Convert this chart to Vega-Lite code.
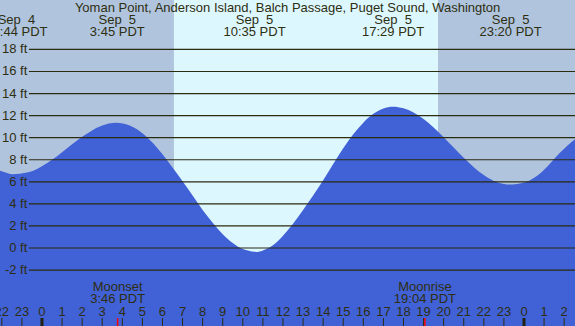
{
  "$schema": "https://vega.github.io/schema/vega-lite/v6.json",
  "width": 575,
  "height": 326,
  "autosize": "none",
  "padding": 0,
  "background": "#B0C4DE",
  "view": {"stroke": null},
  "config": {"text": {"font": "Liberation Sans", "fontSize": 13, "color": "#2E2E10"}},
  "datasets": {
    "sky": [
      {"start": -2.09, "end": 6.57, "phase": "night"},
      {"start": 6.57, "end": 19.72, "phase": "day"},
      {"start": 19.72, "end": 26.54, "phase": "night"}
    ],
    "tide": [
      {"h": -2.09, "ft": 7.0},
      {"h": -1.7, "ft": 6.78},
      {"h": -1.27, "ft": 6.7},
      {"h": -0.5, "ft": 6.96},
      {"h": 0.0, "ft": 7.4},
      {"h": 0.5, "ft": 7.99},
      {"h": 1.0, "ft": 8.68},
      {"h": 1.5, "ft": 9.4},
      {"h": 2.0, "ft": 10.09},
      {"h": 2.5, "ft": 10.66},
      {"h": 3.0, "ft": 11.1},
      {"h": 3.75, "ft": 11.35},
      {"h": 4.5, "ft": 11.0},
      {"h": 5.0, "ft": 10.41},
      {"h": 5.5, "ft": 9.56},
      {"h": 6.0, "ft": 8.49},
      {"h": 6.5, "ft": 7.3},
      {"h": 7.0, "ft": 6.05},
      {"h": 7.5, "ft": 4.75},
      {"h": 8.0, "ft": 3.45},
      {"h": 8.5, "ft": 2.3},
      {"h": 9.0, "ft": 1.25},
      {"h": 9.5, "ft": 0.45},
      {"h": 10.0, "ft": -0.1},
      {"h": 10.58, "ft": -0.35},
      {"h": 11.0, "ft": -0.22},
      {"h": 11.5, "ft": 0.25},
      {"h": 12.0, "ft": 1.1},
      {"h": 12.5, "ft": 2.2},
      {"h": 13.0, "ft": 3.45},
      {"h": 13.5, "ft": 4.75},
      {"h": 14.0, "ft": 6.14},
      {"h": 14.5, "ft": 7.62},
      {"h": 15.0, "ft": 9.04},
      {"h": 15.5, "ft": 10.3},
      {"h": 16.0, "ft": 11.36},
      {"h": 16.5, "ft": 12.16},
      {"h": 17.0, "ft": 12.64},
      {"h": 17.48, "ft": 12.8},
      {"h": 18.0, "ft": 12.66},
      {"h": 18.5, "ft": 12.29},
      {"h": 19.0, "ft": 11.69},
      {"h": 19.5, "ft": 10.92},
      {"h": 20.0, "ft": 10.04},
      {"h": 20.5, "ft": 9.1},
      {"h": 21.0, "ft": 8.17},
      {"h": 21.5, "ft": 7.32},
      {"h": 22.0, "ft": 6.61},
      {"h": 22.5, "ft": 6.08},
      {"h": 23.0, "ft": 5.8},
      {"h": 23.33, "ft": 5.75},
      {"h": 23.8, "ft": 5.84},
      {"h": 24.3, "ft": 6.15},
      {"h": 24.8, "ft": 6.75},
      {"h": 25.3, "ft": 7.65},
      {"h": 25.8, "ft": 8.65},
      {"h": 26.3, "ft": 9.5},
      {"h": 26.54, "ft": 9.85}
    ],
    "levels": [
      {"v": -2, "label": "-2 ft"}, {"v": 0, "label": "0 ft"}, {"v": 2, "label": "2 ft"},
      {"v": 4, "label": "4 ft"}, {"v": 6, "label": "6 ft"}, {"v": 8, "label": "8 ft"},
      {"v": 10, "label": "10 ft"}, {"v": 12, "label": "12 ft"}, {"v": 14, "label": "14 ft"},
      {"v": 16, "label": "16 ft"}, {"v": 18, "label": "18 ft"}
    ],
    "extremes": [
      {"h": -1.27, "date": "Sep \u00a04", "time": "22:44 PDT"},
      {"h": 3.75, "date": "Sep \u00a05", "time": "3:45 PDT"},
      {"h": 10.583, "date": "Sep \u00a05", "time": "10:35 PDT"},
      {"h": 17.483, "date": "Sep \u00a05", "time": "17:29 PDT"},
      {"h": 23.333, "date": "Sep \u00a05", "time": "23:20 PDT"}
    ],
    "moon": [
      {"h": 3.767, "event": "Moonset", "time": "3:46 PDT"},
      {"h": 19.067, "event": "Moonrise", "time": "19:04 PDT"}
    ],
    "hours": [
      {"h": -2, "label": "22"}, {"h": -1, "label": "23"}, {"h": 0, "label": "0"},
      {"h": 1, "label": "1"}, {"h": 2, "label": "2"}, {"h": 3, "label": "3"},
      {"h": 4, "label": "4"}, {"h": 5, "label": "5"}, {"h": 6, "label": "6"},
      {"h": 7, "label": "7"}, {"h": 8, "label": "8"}, {"h": 9, "label": "9"},
      {"h": 10, "label": "10"}, {"h": 11, "label": "11"}, {"h": 12, "label": "12"},
      {"h": 13, "label": "13"}, {"h": 14, "label": "14"}, {"h": 15, "label": "15"},
      {"h": 16, "label": "16"}, {"h": 17, "label": "17"}, {"h": 18, "label": "18"},
      {"h": 19, "label": "19"}, {"h": 20, "label": "20"}, {"h": 21, "label": "21"},
      {"h": 22, "label": "22"}, {"h": 23, "label": "23"}, {"h": 24, "label": "0"},
      {"h": 25, "label": "1"}, {"h": 26, "label": "2"}
    ],
    "midnights": [{"h": 0}, {"h": 24}]
  },
  "layer": [
    {
      "data": {"name": "sky"},
      "mark": {"type": "rect"},
      "encoding": {
        "x": {"field": "start", "type": "quantitative", "scale": {"domain": [-2.09, 26.54], "nice": false, "zero": false}, "axis": null},
        "x2": {"field": "end"},
        "color": {"field": "phase", "type": "nominal", "scale": {"domain": ["night", "day"], "range": ["#B0C4DE", "#DDF7FF"]}, "legend": null}
      }
    },
    {
      "data": {"name": "tide"},
      "mark": {"type": "area", "interpolate": "natural", "color": "#4161D6", "opacity": 1},
      "encoding": {
        "x": {"field": "h", "type": "quantitative", "scale": {"domain": [-2.09, 26.54], "nice": false, "zero": false}, "axis": null},
        "y": {"field": "ft", "type": "quantitative", "scale": {"domain": [-7.07, 22.48], "nice": false, "zero": false}, "axis": null},
        "y2": {"datum": -7.07}
      }
    },
    {
      "data": {"name": "levels"},
      "mark": {"type": "rule", "color": "#2B2B10", "strokeWidth": 1.2},
      "encoding": {
        "x": {"datum": -0.65, "type": "quantitative", "scale": {"domain": [-2.09, 26.54], "nice": false, "zero": false}, "axis": null},
        "x2": {"datum": 26.54},
        "y": {"field": "v", "type": "quantitative", "scale": {"domain": [-7.07, 22.48], "nice": false, "zero": false}, "axis": null}
      }
    },
    {
      "data": {"name": "levels"},
      "mark": {"type": "text", "align": "right", "baseline": "middle"},
      "encoding": {
        "x": {"datum": -0.73, "type": "quantitative", "scale": {"domain": [-2.09, 26.54], "nice": false, "zero": false}, "axis": null},
        "y": {"field": "v", "type": "quantitative", "scale": {"domain": [-7.07, 22.48], "nice": false, "zero": false}, "axis": null},
        "text": {"field": "label"}
      }
    },
    {
      "data": {"values": [{"title": "Yoman Point, Anderson Island, Balch Passage, Puget Sound, Washington"}]},
      "mark": {"type": "text", "align": "center", "baseline": "middle"},
      "encoding": {
        "x": {"datum": 12.23, "type": "quantitative", "scale": {"domain": [-2.09, 26.54], "nice": false, "zero": false}, "axis": null},
        "y": {"datum": 21.78, "type": "quantitative", "scale": {"domain": [-7.07, 22.48], "nice": false, "zero": false}, "axis": null},
        "text": {"field": "title"}
      }
    },
    {
      "data": {"name": "extremes"},
      "mark": {"type": "text", "align": "center", "baseline": "middle"},
      "encoding": {
        "x": {"field": "h", "type": "quantitative", "scale": {"domain": [-2.09, 26.54], "nice": false, "zero": false}, "axis": null},
        "y": {"datum": 20.68, "type": "quantitative", "scale": {"domain": [-7.07, 22.48], "nice": false, "zero": false}, "axis": null},
        "text": {"field": "date"}
      }
    },
    {
      "data": {"name": "extremes"},
      "mark": {"type": "text", "align": "center", "baseline": "middle"},
      "encoding": {
        "x": {"field": "h", "type": "quantitative", "scale": {"domain": [-2.09, 26.54], "nice": false, "zero": false}, "axis": null},
        "y": {"datum": 19.6, "type": "quantitative", "scale": {"domain": [-7.07, 22.48], "nice": false, "zero": false}, "axis": null},
        "text": {"field": "time"}
      }
    },
    {
      "data": {"name": "moon"},
      "mark": {"type": "text", "align": "center", "baseline": "middle"},
      "encoding": {
        "x": {"field": "h", "type": "quantitative", "scale": {"domain": [-2.09, 26.54], "nice": false, "zero": false}, "axis": null},
        "y": {"datum": -3.57, "type": "quantitative", "scale": {"domain": [-7.07, 22.48], "nice": false, "zero": false}, "axis": null},
        "text": {"field": "event"}
      }
    },
    {
      "data": {"name": "moon"},
      "mark": {"type": "text", "align": "center", "baseline": "middle"},
      "encoding": {
        "x": {"field": "h", "type": "quantitative", "scale": {"domain": [-2.09, 26.54], "nice": false, "zero": false}, "axis": null},
        "y": {"datum": -4.62, "type": "quantitative", "scale": {"domain": [-7.07, 22.48], "nice": false, "zero": false}, "axis": null},
        "text": {"field": "time"}
      }
    },
    {
      "data": {"name": "hours"},
      "mark": {"type": "text", "align": "center", "baseline": "middle"},
      "encoding": {
        "x": {"field": "h", "type": "quantitative", "scale": {"domain": [-2.09, 26.54], "nice": false, "zero": false}, "axis": null},
        "y": {"datum": -5.8, "type": "quantitative", "scale": {"domain": [-7.07, 22.48], "nice": false, "zero": false}, "axis": null},
        "text": {"field": "label"}
      }
    },
    {
      "data": {"name": "hours"},
      "mark": {"type": "rule", "color": "#2B2B10", "strokeWidth": 1},
      "encoding": {
        "x": {"field": "h", "type": "quantitative", "scale": {"domain": [-2.09, 26.54], "nice": false, "zero": false}, "axis": null},
        "y": {"datum": -7.07, "type": "quantitative", "scale": {"domain": [-7.07, 22.48], "nice": false, "zero": false}, "axis": null},
        "y2": {"datum": -6.35}
      }
    },
    {
      "data": {"name": "midnights"},
      "mark": {"type": "rule", "color": "#222210", "strokeWidth": 3},
      "encoding": {
        "x": {"field": "h", "type": "quantitative", "scale": {"domain": [-2.09, 26.54], "nice": false, "zero": false}, "axis": null},
        "y": {"datum": -7.07, "type": "quantitative", "scale": {"domain": [-7.07, 22.48], "nice": false, "zero": false}, "axis": null},
        "y2": {"datum": -6.35}
      }
    },
    {
      "data": {"name": "moon"},
      "mark": {"type": "rule", "color": "#FF0000", "strokeWidth": 1.5},
      "encoding": {
        "x": {"field": "h", "type": "quantitative", "scale": {"domain": [-2.09, 26.54], "nice": false, "zero": false}, "axis": null},
        "y": {"datum": -7.07, "type": "quantitative", "scale": {"domain": [-7.07, 22.48], "nice": false, "zero": false}, "axis": null},
        "y2": {"datum": -6.35}
      }
    }
  ]
}
